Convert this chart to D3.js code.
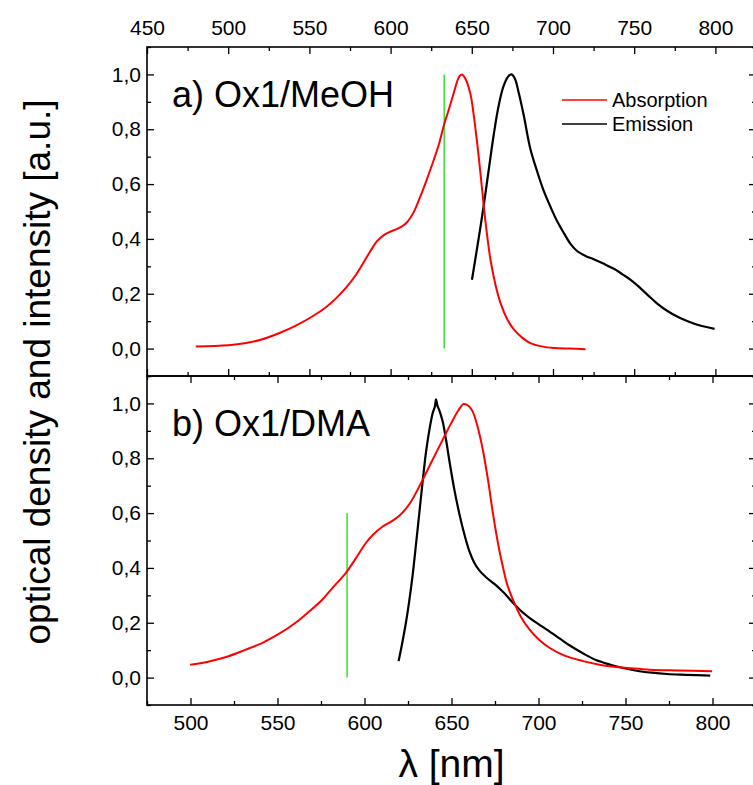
<!DOCTYPE html>
<html>
<head>
<meta charset="utf-8">
<script src="https://cdn.jsdelivr.net/npm/d3@7"></script>
<style>
  html, body { margin: 0; padding: 0; background: #fff; }
  svg { display: block; font-family: "Liberation Sans", Arial, sans-serif; }
</style>
</head>
<body>
<svg id="chart" width="753" height="785"></svg>
<script>
// ---- data (wavelength nm, normalized value) ----
const topAbsorption = [
  [480,0.008],[500,0.012],[511,0.02],[520,0.032],[531.6,0.057],[542,0.085],[552,0.118],
  [560,0.150],[566.7,0.185],[573,0.225],[579,0.272],[583,0.31],[587.3,0.353],[591.4,0.39],
  [596,0.415],[600,0.427],[603.8,0.436],[607,0.446],[610,0.46],[614,0.495],[618.2,0.553],
  [622,0.612],[626.4,0.685],[630,0.75],[632.6,0.81],[636,0.875],[639,0.935],[641,0.975],
  [642.6,0.995],[644,1.0],[646,0.985],[649.1,0.93],[651,0.86],[653.3,0.75],[655.5,0.63],
  [657.4,0.518],[659.5,0.41],[661.5,0.324],[664.5,0.235],[667.7,0.166],[672,0.105],[676,0.069],
  [681,0.04],[686,0.02],[693,0.008],[700.7,0.002],[710,0.0],[720,-0.002]
];
const topEmission = [
  [650.1,0.251],[653.5,0.375],[657.3,0.52],[660.5,0.655],[663.5,0.78],[666.5,0.885],
  [669.7,0.96],[672.8,0.995],[674.5,1.0],[676.5,0.985],[679,0.93],[682,0.85],[686,0.73],
  [690.3,0.645],[694,0.58],[698.6,0.515],[702.5,0.465],[706.8,0.42],[711,0.38],[715,0.355],
  [720,0.338],[725.4,0.325],[731,0.31],[737.8,0.29],[743,0.27],[748,0.25],[753,0.225],
  [758.4,0.195],[764,0.165],[770.7,0.136],[777,0.115],[783,0.1],[790,0.085],[799.5,0.072]
];
const bottomAbsorption = [
  [499.8,0.047],[510,0.058],[521.9,0.078],[531,0.1],[541.1,0.126],[551,0.16],[560.4,0.2],
  [568,0.24],[575.7,0.284],[582,0.33],[589.2,0.381],[595,0.435],[600.7,0.49],[605,0.522],
  [610.3,0.55],[615,0.568],[620,0.59],[626,0.635],[631.5,0.697],[638,0.78],[644.9,0.867],
  [650,0.93],[654,0.975],[657,0.998],[660,0.99],[662.2,0.97],[665,0.915],[668,0.831],
  [671,0.72],[673.8,0.6],[677,0.48],[679.5,0.405],[682,0.34],[685.3,0.284],[690,0.22],
  [694.9,0.175],[700,0.14],[706.5,0.108],[715,0.08],[725.7,0.06],[735,0.047],[744.9,0.039],
  [755,0.033],[764.1,0.029],[780,0.026],[799.7,0.023]
];
const bottomEmission = [
  [619.6,0.06],[621.5,0.12],[623.8,0.2],[625.5,0.27],[627.6,0.37],[629.5,0.48],[631.5,0.6],
  [633.5,0.72],[635.3,0.82],[637.2,0.9],[639.2,0.965],[640.5,0.99],[641.1,1.015],[642,0.99],
  [643,0.975],[644.9,0.935],[646.8,0.87],[648.8,0.79],[651.5,0.69],[654.6,0.595],[657.5,0.52],
  [660.3,0.46],[663,0.42],[666.1,0.39],[670,0.365],[675,0.34],[680,0.31],[685,0.275],
  [690,0.243],[695,0.217],[700,0.195],[705,0.174],[712.3,0.142],[718,0.117],[725.7,0.088],
  [733,0.064],[741.3,0.047],[748,0.036],[756.4,0.025],[765,0.018],[773.8,0.013],[785,0.01],
  [798.7,0.007]
];
const topLaser = { nm: 633, from: 0, to: 1.0 };
const bottomLaser = { nm: 590, from: 0, to: 0.6 };
const panelLabels = ["a) Ox1/MeOH", "b) Ox1/DMA"];
const legendLabels = ["Absorption", "Emission"];
const topXDomain = [450, 825];
const bottomXDomain = [475, 825];
const yDomain = [-0.1, 1.1];
const xTicks = [450, 500, 550, 600, 650, 700, 750, 800];
const xMinorTicks = [475, 525, 575, 625, 675, 725, 775, 825];
const yTicks = [0, 0.2, 0.4, 0.6, 0.8, 1.0];
const yMinorTicks = [-0.1, 0.1, 0.3, 0.5, 0.7, 0.9, 1.1];
const xTitle = "λ [nm]";
const yTitle = "optical density and intensity [a.u.]";

// ---- layout ----
const L = 147, R = 756, T = 47, M = 376, B = 705;
const svg = d3.select("#chart");
const fmtY = d => d3.format(".1f")(d).replace(".", ",");
const RED = "#ff0000", BLACK = "#000", GREEN = "#33e033";
const MAJ = 7, MIN = 4;

function panel(y0, y1, xDomain, abs, emi, laser, label, showTopLabels, showBottomLabels, showLegend) {
  const x = d3.scaleLinear().domain(xDomain).range([L, R]);
  const y = d3.scaleLinear().domain(yDomain).range([y1, y0]);
  const g = svg.append("g");
  const xt = xTicks.filter(v => v >= xDomain[0] && v <= xDomain[1]);
  const xm = xMinorTicks.filter(v => v >= xDomain[0] && v <= xDomain[1]);

  const styleAxis = sel => {
    sel.select(".domain").remove();
    sel.selectAll("line").attr("stroke", "#000").attr("stroke-width", 1.3);
    sel.selectAll("text").attr("font-size", 21).attr("fill", "#000")
      .attr("font-family", "'Liberation Sans', Arial, sans-serif");
  };
  // top edge
  g.append("g").attr("transform", `translate(0,${y0})`)
    .call(d3.axisTop(x).tickValues(xt).tickSize(-MAJ).tickPadding(12)
      .tickFormat(showTopLabels ? d3.format("d") : () => ""))
    .call(styleAxis);
  g.append("g").attr("transform", `translate(0,${y0})`)
    .call(d3.axisTop(x).tickValues(xm).tickSize(-MIN).tickFormat(() => "")).call(styleAxis);
  // bottom edge
  g.append("g").attr("transform", `translate(0,${y1})`)
    .call(d3.axisBottom(x).tickValues(xt).tickSize(-MAJ).tickPadding(10)
      .tickFormat(showBottomLabels ? d3.format("d") : () => ""))
    .call(styleAxis);
  g.append("g").attr("transform", `translate(0,${y1})`)
    .call(d3.axisBottom(x).tickValues(xm).tickSize(-MIN).tickFormat(() => "")).call(styleAxis);
  // left
  g.append("g").attr("transform", `translate(${L},0)`)
    .call(d3.axisLeft(y).tickValues(yTicks).tickSize(-MAJ).tickPadding(6).tickFormat(fmtY))
    .call(styleAxis);
  g.append("g").attr("transform", `translate(${L},0)`)
    .call(d3.axisLeft(y).tickValues(yMinorTicks).tickSize(-MIN).tickFormat(() => "")).call(styleAxis);
  // right
  g.append("g").attr("transform", `translate(${R},0)`)
    .call(d3.axisRight(y).tickValues(yTicks).tickSize(-MAJ).tickFormat(() => "")).call(styleAxis);
  g.append("g").attr("transform", `translate(${R},0)`)
    .call(d3.axisRight(y).tickValues(yMinorTicks).tickSize(-MIN).tickFormat(() => "")).call(styleAxis);

  // frame
  g.append("rect").attr("x", L).attr("y", y0).attr("width", R - L).attr("height", y1 - y0)
    .attr("fill", "none").attr("stroke", "#000").attr("stroke-width", 1.6);

  const line = d3.line().x(d => x(d[0])).y(d => y(d[1])).curve(d3.curveCatmullRom.alpha(0.5));
  // laser line
  g.append("line").attr("x1", x(laser.nm)).attr("x2", x(laser.nm))
    .attr("y1", y(laser.from)).attr("y2", y(laser.to))
    .attr("stroke", GREEN).attr("stroke-width", 1.5);
  g.append("path").datum(emi).attr("d", line).attr("fill", "none")
    .attr("stroke", BLACK).attr("stroke-width", 2.2).attr("stroke-linejoin", "round");
  g.append("path").datum(abs).attr("d", line).attr("fill", "none")
    .attr("stroke", RED).attr("stroke-width", 2);

  g.append("text").attr("x", 172).attr("y", y0 + 60).attr("font-size", 36)
    .attr("fill", "#000").text(label);

  if (showLegend) {
    const items = [{ t: legendLabels[0], c: RED }, { t: legendLabels[1], c: BLACK }];
    items.forEach((it, i) => {
      const yy = 100 + i * 24;
      g.append("line").attr("x1", 562).attr("x2", 607).attr("y1", yy).attr("y2", yy)
        .attr("stroke", it.c).attr("stroke-width", 1.6);
      g.append("text").attr("x", 612).attr("y", yy + 7).attr("font-size", 20)
        .attr("fill", "#000").text(it.t);
    });
  }
}

panel(T, M, topXDomain, topAbsorption, topEmission, topLaser, panelLabels[0], true, false, true);
panel(M, B, bottomXDomain, bottomAbsorption, bottomEmission, bottomLaser, panelLabels[1], false, true, false);

svg.append("text").attr("x", (L + R) / 2).attr("y", 777).attr("text-anchor", "middle")
  .attr("font-size", 39).attr("fill", "#000").text(xTitle);
svg.append("text").attr("transform", "translate(50,372) rotate(-90)").attr("text-anchor", "middle")
  .attr("font-size", 37).attr("fill", "#000").text(yTitle);
</script>
</body>
</html>
